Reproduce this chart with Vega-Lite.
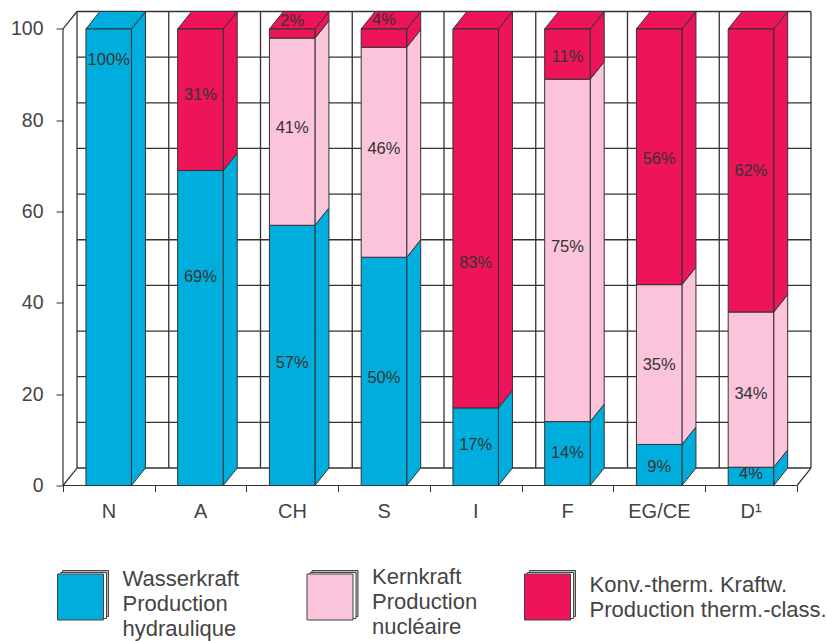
{"$schema":"https://vega.github.io/schema/vega-lite/v6.json","background":"#ffffff","bounds":"flush","padding":{"left":10,"top":9.5,"right":2,"bottom":0},"spacing":75.5,"config":{"view":{"stroke":null},"font":"Liberation Sans"},"datasets":{"shares":[{"country":"N","series":"Wasserkraft","value":100},{"country":"A","series":"Wasserkraft","value":69},{"country":"A","series":"Konv.-therm.","value":31},{"country":"CH","series":"Wasserkraft","value":57},{"country":"CH","series":"Kernkraft","value":41},{"country":"CH","series":"Konv.-therm.","value":2},{"country":"S","series":"Wasserkraft","value":50},{"country":"S","series":"Kernkraft","value":46},{"country":"S","series":"Konv.-therm.","value":4},{"country":"I","series":"Wasserkraft","value":17},{"country":"I","series":"Konv.-therm.","value":83},{"country":"F","series":"Wasserkraft","value":14},{"country":"F","series":"Kernkraft","value":75},{"country":"F","series":"Konv.-therm.","value":11},{"country":"EG/CE","series":"Wasserkraft","value":9},{"country":"EG/CE","series":"Kernkraft","value":35},{"country":"EG/CE","series":"Konv.-therm.","value":56},{"country":"D¹","series":"Wasserkraft","value":4},{"country":"D¹","series":"Kernkraft","value":34},{"country":"D¹","series":"Konv.-therm.","value":62}],"keys":[{"series":"Wasserkraft","label":"Wasserkraft\nProduction\nhydraulique"},{"series":"Kernkraft","label":"Kernkraft\nProduction\nnucléaire"},{"series":"Konv.-therm.","label":"Konv.-therm. Kraftw.\nProduction therm.-class."}],"one":[{"n":1}]},"vconcat":[{"width":748,"height":474,"layer":[
{"data":{"values":[{"v":0},{"v":10},{"v":20},{"v":30},{"v":40},{"v":50},{"v":60},{"v":70},{"v":80},{"v":90},{"v":100}]},"transform":[{"calculate":"datum.v+3.83","as":"yb"}],"mark":{"type":"rule","stroke":"#333","strokeWidth":1.3},"encoding":{"x":{"datum":0.1526,"type":"quantitative","scale":{"domain":[0,8.1526],"nice":false,"zero":false},"axis":{"values":[0,1,2,3,4,5,6,7,8],"labels":false,"domain":false,"grid":false,"tickSize":6,"tickColor":"#333","title":null}},"x2":{"datum":8.1526},"y":{"field":"yb","type":"quantitative","scale":{"domain":[0,103.83],"nice":false,"zero":false},"axis":{"values":[0,20,40,60,80,100],"domain":false,"grid":false,"tickSize":7,"tickColor":"#333","labelColor":"#444","labelFontSize":19.5,"labelPadding":13,"labelFont":"Liberation Sans","title":null}}}},
{"data":{"values":[{"k":0},{"k":1},{"k":2},{"k":3},{"k":4},{"k":5},{"k":6},{"k":7},{"k":8}]},"transform":[{"calculate":"datum.k+0.1526","as":"xb"}],"mark":{"type":"rule","stroke":"#333","strokeWidth":1.3},"encoding":{"x":{"field":"xb","type":"quantitative","scale":{"domain":[0,8.1526],"nice":false,"zero":false}},"y":{"datum":3.83,"type":"quantitative","scale":{"domain":[0,103.83],"nice":false,"zero":false}},"y2":{"datum":103.83}}},
{"data":{"name":"one"},"mark":{"type":"rule","stroke":"#333","strokeWidth":1.2},"encoding":{"x":{"datum":0,"type":"quantitative","scale":{"domain":[0,8.1526],"nice":false,"zero":false}},"y":{"datum":0,"type":"quantitative","scale":{"domain":[0,103.83],"nice":false,"zero":false}},"y2":{"datum":100}}},
{"data":{"name":"one"},"mark":{"type":"rule","stroke":"#333","strokeWidth":1.2},"encoding":{"x":{"datum":0,"type":"quantitative","scale":{"domain":[0,8.1526],"nice":false,"zero":false}},"x2":{"datum":8},"y":{"datum":0,"type":"quantitative","scale":{"domain":[0,103.83],"nice":false,"zero":false}}}},
{"data":{"name":"one"},"mark":{"type":"rule","stroke":"#333","strokeWidth":1.2},"encoding":{"x":{"datum":0,"type":"quantitative","scale":{"domain":[0,8.1526],"nice":false,"zero":false}},"x2":{"datum":0.1526},"y":{"datum":0,"type":"quantitative","scale":{"domain":[0,103.83],"nice":false,"zero":false}},"y2":{"datum":3.83}}},
{"data":{"name":"one"},"mark":{"type":"rule","stroke":"#333","strokeWidth":1.2},"encoding":{"x":{"datum":0,"type":"quantitative","scale":{"domain":[0,8.1526],"nice":false,"zero":false}},"x2":{"datum":0.1526},"y":{"datum":100,"type":"quantitative","scale":{"domain":[0,103.83],"nice":false,"zero":false}},"y2":{"datum":103.83}}},
{"data":{"name":"one"},"mark":{"type":"rule","stroke":"#333","strokeWidth":1.2},"encoding":{"x":{"datum":8,"type":"quantitative","scale":{"domain":[0,8.1526],"nice":false,"zero":false}},"x2":{"datum":8.1526},"y":{"datum":0,"type":"quantitative","scale":{"domain":[0,103.83],"nice":false,"zero":false}},"y2":{"datum":3.83}}},
{"data":{"name":"shares"},"transform":[{"calculate":"indexof(['N','A','CH','S','I','F','EG/CE','D¹'],datum.country)","as":"i"},{"calculate":"indexof(['Wasserkraft','Kernkraft','Konv.-therm.'],datum.series)","as":"ord"},{"stack":"value","groupby":["country"],"sort":[{"field":"ord","order":"ascending"}],"as":["y0","y1"]},{"calculate":"[datum.i+0.746,datum.i+0.8986]","as":"xs"},{"calculate":"[datum.y0,datum.y0+3.83]","as":"los"},{"calculate":"[datum.y1,datum.y1+3.83]","as":"his"},{"flatten":["xs","los","his"]},{"calculate":"datum.country+datum.series","as":"seg"}],"mark":{"type":"area","stroke":"#333","strokeWidth":1},"encoding":{"detail":{"field":"seg"},"x":{"field":"xs","type":"quantitative","scale":{"domain":[0,8.1526],"nice":false,"zero":false}},"y":{"field":"los","type":"quantitative","stack":null,"scale":{"domain":[0,103.83],"nice":false,"zero":false}},"y2":{"field":"his"},"fill":{"field":"series","type":"nominal","scale":{"domain":["Wasserkraft","Kernkraft","Konv.-therm."],"range":["#00aedd","#fbc4da","#ee1459"]},"legend":null}}},
{"data":{"name":"shares"},"transform":[{"filter":"datum.series=='Konv.-therm.'||datum.country=='N'"},{"calculate":"indexof(['N','A','CH','S','I','F','EG/CE','D¹'],datum.country)","as":"i"},{"calculate":"[datum.i+0.25,datum.i+0.4026,datum.i+0.746,datum.i+0.8986]","as":"xs"},{"calculate":"[100,100,100,103.83]","as":"los"},{"calculate":"[100,103.83,103.83,103.83]","as":"his"},{"flatten":["xs","los","his"]}],"mark":{"type":"area","stroke":"#333","strokeWidth":1},"encoding":{"detail":{"field":"country"},"x":{"field":"xs","type":"quantitative","scale":{"domain":[0,8.1526],"nice":false,"zero":false}},"y":{"field":"los","type":"quantitative","stack":null,"scale":{"domain":[0,103.83],"nice":false,"zero":false}},"y2":{"field":"his"},"fill":{"field":"series","type":"nominal","scale":{"domain":["Wasserkraft","Kernkraft","Konv.-therm."],"range":["#00aedd","#fbc4da","#ee1459"]},"legend":null}}},
{"data":{"name":"shares"},"transform":[{"calculate":"indexof(['N','A','CH','S','I','F','EG/CE','D¹'],datum.country)","as":"i"},{"calculate":"indexof(['Wasserkraft','Kernkraft','Konv.-therm.'],datum.series)","as":"ord"},{"stack":"value","groupby":["country"],"sort":[{"field":"ord","order":"ascending"}],"as":["y0","y1"]},{"calculate":"datum.i+0.25","as":"xa"},{"calculate":"datum.i+0.746","as":"xz"}],"mark":{"type":"rect","stroke":"#333","strokeWidth":1},"encoding":{"x":{"field":"xa","type":"quantitative","scale":{"domain":[0,8.1526],"nice":false,"zero":false}},"x2":{"field":"xz"},"y":{"field":"y0","type":"quantitative","stack":null,"scale":{"domain":[0,103.83],"nice":false,"zero":false}},"y2":{"field":"y1"},"fill":{"field":"series","type":"nominal","scale":{"domain":["Wasserkraft","Kernkraft","Konv.-therm."],"range":["#00aedd","#fbc4da","#ee1459"]},"legend":null}}},
{"data":{"name":"shares"},"transform":[{"calculate":"indexof(['N','A','CH','S','I','F','EG/CE','D¹'],datum.country)","as":"i"},{"calculate":"datum.i+0.498","as":"xc"},{"calculate":"datum.value+'%'","as":"txt"},{"calculate":"{'N100':93.2,'A69':45.7,'A31':85.5,'CH57':26.8,'CH41':78.3,'CH2':101.7,'S50':23.5,'S46':73.7,'S4':102,'I17':8.9,'I83':48.7,'F14':7.1,'F75':52.2,'F11':93.9,'EG/CE9':4,'EG/CE35':26.4,'EG/CE56':71.5,'D¹4':2.5,'D¹34':20,'D¹62':68.9}[datum.country+datum.value]","as":"ly"}],"mark":{"type":"text","fontSize":16.5,"fill":"#333","baseline":"middle"},"encoding":{"x":{"field":"xc","type":"quantitative","scale":{"domain":[0,8.1526],"nice":false,"zero":false}},"y":{"field":"ly","type":"quantitative","scale":{"domain":[0,103.83],"nice":false,"zero":false}},"text":{"field":"txt"}}},
{"data":{"values":[{"country":"N","pos":0.5},{"country":"A","pos":1.5},{"country":"CH","pos":2.5},{"country":"S","pos":3.5},{"country":"I","pos":4.5},{"country":"F","pos":5.5},{"country":"EG/CE","pos":6.5},{"country":"D¹","pos":7.5}]},"mark":{"type":"text","fontSize":20,"fill":"#444","baseline":"middle","dy":26},"encoding":{"x":{"field":"pos","type":"quantitative","scale":{"domain":[0,8.1526],"nice":false,"zero":false}},"y":{"datum":0,"type":"quantitative","scale":{"domain":[0,103.83],"nice":false,"zero":false}},"text":{"field":"country"}}}
]},{"width":748,"height":80,"data":{"name":"keys"},"transform":[{"calculate":"indexof(['Wasserkraft','Kernkraft','Konv.-therm.'],datum.series)","as":"col"}],"resolve":{"scale":{"y":"independent"}},"layer":[
{"mark":{"type":"point","shape":"square","filled":true,"size":2116,"fill":"#bbb","stroke":"#444","strokeWidth":1,"opacity":1,"xOffset":5,"yOffset":-3.5},"encoding":{"x":{"field":"col","type":"quantitative","scale":{"domain":[0,1,2],"range":[17.5,267,484.5]},"axis":null},"y":{"field":"col","type":"quantitative","scale":{"domain":[0,1,2],"range":[36,36,36]},"axis":null}}},
{"mark":{"type":"point","shape":"square","filled":true,"size":2116,"fill":"#fff","stroke":"#444","strokeWidth":1,"opacity":1,"xOffset":3,"yOffset":-1.5},"encoding":{"x":{"field":"col","type":"quantitative","scale":{"domain":[0,1,2],"range":[17.5,267,484.5]},"axis":null},"y":{"field":"col","type":"quantitative","scale":{"domain":[0,1,2],"range":[36,36,36]},"axis":null}}},
{"mark":{"type":"point","shape":"square","filled":true,"size":2116,"stroke":"#444","strokeWidth":1,"opacity":1},"encoding":{"x":{"field":"col","type":"quantitative","scale":{"domain":[0,1,2],"range":[17.5,267,484.5]},"axis":null},"y":{"field":"col","type":"quantitative","scale":{"domain":[0,1,2],"range":[36,36,36]},"axis":null},"fill":{"field":"series","type":"nominal","scale":{"domain":["Wasserkraft","Kernkraft","Konv.-therm."],"range":["#00aedd","#fbc4da","#ee1459"]},"legend":null}}},
{"mark":{"type":"text","fontSize":22,"fill":"#444","align":"left","baseline":"line-top","lineBreak":"\n","lineHeight":25,"dx":42},"encoding":{"x":{"field":"col","type":"quantitative","scale":{"domain":[0,1,2],"range":[17.5,267,484.5]},"axis":null},"y":{"field":"col","type":"quantitative","scale":{"domain":[0,1,2],"range":[6,4,12]},"axis":null},"text":{"field":"label"}}}
]}]}
